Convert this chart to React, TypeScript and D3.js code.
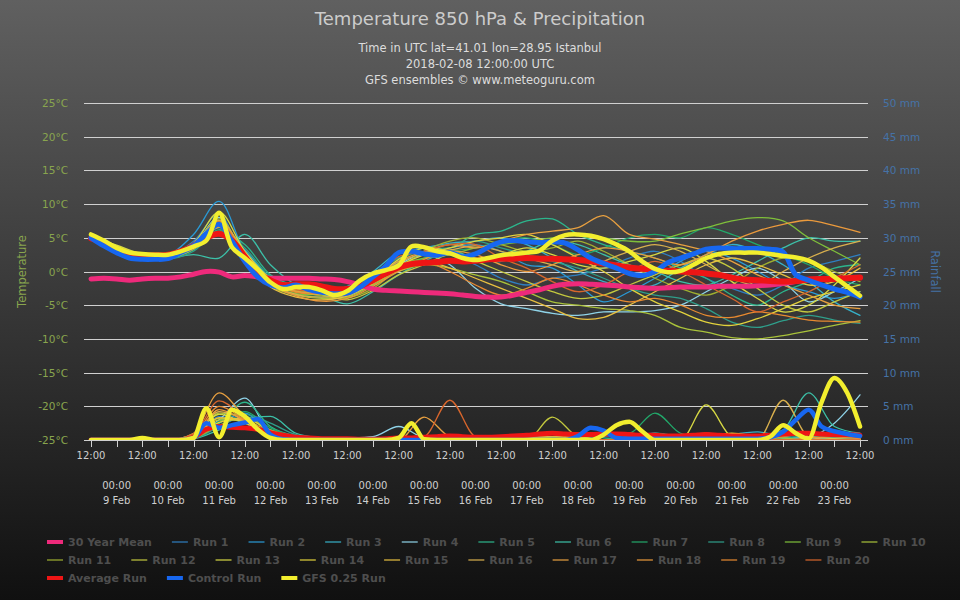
import React, { useMemo } from "react";
import * as d3 from "d3";

const W = 960;
const H = 600;

const titleText = "Temperature 850 hPa & Precipitation";
const subtitleLines = [
  "Time in UTC lat=41.01 lon=28.95 Istanbul",
  "2018-02-08 12:00:00 UTC",
  "GFS ensembles © www.meteoguru.com",
];

// Forecast window (UTC)
const startUTC = Date.UTC(2018, 1, 8, 12);
const endUTC = Date.UTC(2018, 1, 23, 12);
const HOUR = 3600000;

const tempTicks = [-25, -20, -15, -10, -5, 0, 5, 10, 15, 20, 25];
const rainTicks = [0, 5, 10, 15, 20, 25, 30, 35, 40, 45, 50];

// 6-hourly series
const meanTemp30y = [
  -1.1, -1.0, -1.1, -1.3, -1.1, -1.0, -1.0, -0.8, -0.4, 0.0,
  -0.1, -0.8, -0.6, -0.8, -1.0, -1.0, -1.0, -1.0, -1.1, -1.2,
  -1.5, -2.0, -2.6, -2.8, -2.9, -3.0, -3.1, -3.2, -3.3, -3.5,
  -3.7, -3.8, -3.8, -3.5, -3.1, -2.7, -2.2, -1.9, -1.8, -1.9,
  -2.0, -2.1, -2.3, -2.4, -2.5, -2.4, -2.3, -2.3, -2.3, -2.2,
  -2.2, -2.2, -2.1, -2.0, -1.8, -1.5, -1.2, -1.1, -1.0, -1.0,
  -0.9,
];
const avgTemp = [
  4.9, 4.2, 3.2, 2.6, 2.4, 2.4, 2.5, 3.0, 3.8, 5.0,
  5.6, 4.6, 2.2, -0.2, -1.3, -2.0, -1.9, -1.9, -2.2, -2.6,
  -2.6, -2.2, -1.3, -0.3, 0.6, 1.1, 1.3, 1.4, 1.6, 1.5,
  1.6, 1.8, 1.9, 1.9, 2.0, 1.9, 1.9, 1.8, 1.7, 1.5,
  1.2, 0.9, 0.6, 0.4, 0.3, 0.1, 0.0, -0.1, -0.3, -0.5,
  -0.9, -1.2, -1.3, -1.4, -1.5, -1.4, -1.2, -1.1, -1.1, -1.0,
  -0.9,
];
const controlTemp = [
  5.0, 3.8, 2.8, 2.0, 1.8, 1.8, 1.9, 2.8, 3.8, 5.6,
  7.0, 4.5, 1.5, -0.8, -2.0, -2.4, -2.0, -2.7, -3.1, -3.3,
  -3.2, -2.3, -0.8, 0.8, 2.8, 3.0, 2.6, 2.4, 2.8, 2.2,
  2.6, 3.6, 4.4, 4.6, 4.4, 4.3, 4.4, 4.2, 3.2, 2.0,
  1.2, 0.5, -0.3, -0.6, 0.0, 1.3, 2.0, 2.6, 3.3, 3.5,
  3.4, 3.4, 3.4, 3.3, 2.9, -0.5, -1.3, -2.0, -2.6, -3.1,
  -3.8,
];
const gfsTemp = [
  5.5, 4.6, 3.5, 2.8, 2.6, 2.5, 2.5, 3.0, 3.7, 4.6,
  8.7, 3.6, 2.0, 0.3, -1.6, -2.6, -2.3, -2.3, -2.8, -3.5,
  -2.9, -1.3, -0.3, 0.2, 0.9, 3.7, 3.6, 3.0, 2.7, 2.0,
  1.7, 2.0, 2.4, 2.6, 2.8, 3.1, 4.6, 5.4, 5.5, 5.3,
  4.8, 4.0, 3.0, 1.5, 0.4, -0.1, 0.1, 1.0, 2.0, 2.6,
  2.8, 2.8, 2.8, 2.6, 2.3, 2.1, 1.6, 0.6, -0.8, -2.2,
  -3.6,
];
const avgRain = [
  0, 0, 0, 0, 0.1, 0, 0, 0, 0.4, 1.6,
  2.0, 1.9, 1.8, 1.6, 1.1, 0.7, 0.4, 0.3, 0.2, 0.2,
  0.2, 0.1, 0.1, 0.2, 0.3, 0.3, 0.4, 0.5, 0.6, 0.5,
  0.4, 0.4, 0.5, 0.6, 0.7, 0.9, 1.0, 0.9, 0.8, 0.8,
  0.9, 0.9, 0.8, 0.7, 0.7, 0.6, 0.6, 0.7, 0.8, 0.7,
  0.6, 0.6, 0.6, 0.7, 0.9, 1.0, 1.0, 0.9, 0.8, 0.8,
  0.7,
];
const controlRain = [
  0, 0, 0, 0, 0, 0, 0, 0, 0.3, 2.5,
  1.8, 2.2, 2.6, 3.1, 0.8, 0.1, 0, 0, 0, 0,
  0, 0, 0, 0, 0, 0, 0, 0, 0, 0,
  0, 0, 0, 0, 0, 0, 0, 0, 0.6, 1.8,
  1.4, 0.3, 0.2, 0.2, 0.2, 0.2, 0.2, 0.2, 0.2, 0.2,
  0.2, 0.2, 0.2, 0.4, 1.2, 3.0, 4.5, 2.0, 1.3, 0.9,
  0.6,
];
const gfsRain = [
  0, 0, 0, 0, 0.3, 0, 0, 0, 0.3, 4.7,
  0.4, 4.5, 3.5, 1.6, 0.3, 0, 0, 0, 0, 0,
  0, 0, 0, 0, 0.3, 2.5, 0.1, 0, 0, 0,
  0, 0, 0, 0, 0, 0, 0, 0, 0, 0,
  0.8, 2.2, 2.7, 1.3, 0, 0, 0, 0, 0, 0,
  0, 0, 0, 0.5, 2.2, 1.0, 0.2, 5.6, 9.2, 7.0,
  2.0,
];

// Ensemble members, 12-hourly
const runColors = [
  "#2f7fc1", "#2a9ad6", "#36b0c8", "#8fd3e8", "#2cb58c",
  "#3cc0a8", "#22a86a", "#2f9e8a", "#7fbf3a", "#a9c23a",
  "#9fb030", "#c3c83e", "#d6d844", "#e2d23c", "#e8c040",
  "#d9b04e", "#e8a040", "#eb9a3c", "#e88a30", "#d8662c",
];
const ensembleTemp = [
  [5.1, 3.8, 2.4, 2.3, 4.5, 8.5, 1.5, -1.2, -2.0, -2.6, -3.0, -0.5, 2.0, 3.0, 2.5, 1.0, -1.0, -2.0, -1.0, -0.5, 0.5, 2.0, 3.0, 1.5, -1.0, -2.5, -3.5, -2.0, 0.5, 1.5, 2.5],
  [5.0, 3.5, 2.2, 2.4, 5.5, 10.4, 3.0, -0.8, -2.4, -3.2, -3.4, -1.0, 1.5, 2.5, 3.5, 4.0, 3.0, 1.0, 0.5, -2.0, -4.5, -3.0, -1.0, 1.5, 3.0, 2.0, 0.0, -2.0, -3.0, -4.0, -3.0],
  [4.8, 3.4, 2.0, 2.1, 3.6, 6.5, 3.2, -1.0, -2.8, -3.0, -2.2, 0.0, 2.8, 3.5, 4.2, 4.5, 5.0, 4.0, 2.0, 0.0, -1.5, -2.5, -2.0, 0.5, 2.5, 4.0, 3.0, 1.0, -1.5, -4.5, -6.5],
  [5.2, 3.7, 2.5, 2.6, 4.0, 8.0, 2.0, -1.8, -3.0, -3.5, -3.2, -1.5, 1.0, 2.5, 1.0, -2.5, -4.8, -5.5, -6.2, -6.5, -6.0, -6.0, -5.8, -5.0, -3.0, -1.0, 0.5, -1.5, -4.5, -3.0, -1.0],
  [5.0, 3.6, 2.3, 2.0, 3.2, 6.0, 4.0, -0.5, -2.2, -3.0, -3.5, -1.8, 1.5, 3.5, 3.5, 5.5, 6.0, 7.5, 7.8, 5.5, 4.0, 3.0, 2.0, 0.5, -1.0, -3.5, -5.0, -3.0, -1.5, 0.5, 1.0],
  [4.9, 3.5, 2.1, 2.0, 2.5, 2.0, 5.5, 1.0, -2.0, -3.5, -4.8, -3.0, -0.5, 1.5, 3.0, 2.0, 1.5, 3.0, 4.5, 4.0, 2.5, 1.0, 0.0, -1.5, -2.0, -0.5, 1.5, 3.5, 5.0, 4.5, 4.5],
  [5.1, 3.7, 2.4, 2.5, 3.8, 7.2, 2.8, -1.5, -3.2, -3.8, -3.5, -2.0, 0.5, 2.0, 3.0, 3.5, 4.5, 5.0, 4.0, 2.5, 3.5, 5.0, 5.5, 5.0, 6.5, 5.5, 4.0, 2.5, 1.0, -1.0, -2.0],
  [5.0, 3.3, 2.0, 1.8, 3.0, 6.2, 3.5, -0.8, -2.5, -2.8, -2.5, -0.5, 2.0, 3.0, 3.5, 4.5, 3.5, 2.5, 1.5, 0.5, -1.0, -2.5, -3.5, -4.0, -5.5, -7.5, -8.3, -7.3, -6.5, -7.2, -7.7],
  [5.0, 3.6, 2.2, 2.2, 3.4, 7.0, 2.2, -2.0, -3.3, -3.4, -3.2, -1.0, 1.0, 2.0, 2.5, 3.5, 4.0, 4.5, 5.0, 5.5, 5.0, 4.5, 4.5, 5.6, 6.5, 7.5, 8.0, 7.5, 5.0, 3.0, 1.0],
  [5.1, 3.8, 2.5, 2.3, 3.7, 7.5, 2.0, -2.2, -3.5, -4.0, -3.8, -2.0, 0.0, 1.0, 0.5, -0.5, -1.5, -3.0, -4.5, -5.0, -5.5, -5.8, -6.5, -8.3, -9.0, -9.8, -10.0, -9.5, -8.8, -8.0, -7.3],
  [4.9, 3.5, 2.3, 2.4, 3.9, 7.8, 2.6, -1.6, -2.8, -3.6, -3.9, -2.5, 0.5, 3.0, 4.5, 5.0, 4.0, 3.0, 3.5, 4.5, 3.0, 1.0, -1.0, -2.5, -3.5, -2.0, 0.5, 2.0, 1.5, 0.0, -1.5],
  [5.0, 3.6, 2.1, 2.0, 3.3, 6.8, 2.4, -1.3, -2.6, -3.4, -4.2, -2.8, -0.5, 1.0, 2.5, 1.5, 0.0, -1.5, -3.0, -4.0, -3.5, -2.0, -0.5, 1.0, 2.0, 0.5, -2.5, -5.0, -6.0, -4.5, -3.0],
  [5.2, 3.9, 2.6, 2.5, 4.2, 8.8, 3.0, -1.0, -2.6, -3.0, -3.0, -1.2, 1.8, 3.5, 3.0, 2.0, 2.5, 3.5, 2.5, 1.0, 0.5, 1.5, 2.5, 3.5, 1.5, -1.5, -4.0, -6.0, -5.0, -2.0, 2.0],
  [4.8, 3.3, 2.0, 2.1, 3.5, 7.2, 2.9, -1.4, -3.0, -3.4, -3.6, -1.6, 0.8, 2.5, 3.5, 4.5, 5.0, 5.5, 4.0, 2.0, 0.0, -2.5, -4.5, -6.0, -7.5, -8.0, -7.0, -5.5, -4.0, -3.0, -2.0],
  [5.0, 3.5, 2.2, 2.2, 3.6, 7.0, 2.3, -2.3, -3.8, -4.2, -3.6, -1.8, 0.2, 1.5, 0.5, -1.0, -2.5, -4.0, -5.5, -7.0, -6.8, -5.0, -3.0, -1.0, 1.0, 2.0, 1.0, -0.5, -2.0, -1.5, 0.5],
  [5.1, 3.7, 2.4, 2.4, 3.8, 7.6, 2.7, -1.7, -3.4, -3.8, -3.4, -1.4, 1.2, 2.8, 3.2, 3.8, 3.0, 2.0, 1.0, 0.0, 1.5, 3.0, 4.0, 3.0, 1.0, -1.0, -2.0, 0.0, 2.0, 3.5, 4.5],
  [4.9, 3.4, 2.2, 2.3, 3.4, 6.6, 2.5, -1.1, -2.9, -3.3, -3.0, -1.0, 1.5, 3.0, 4.0, 3.5, 4.5, 5.5, 6.0, 6.5, 8.3, 5.5, 4.8, 4.0, 3.0, 1.5, -0.5, -2.0, -3.5, -5.0, -5.5],
  [5.0, 3.6, 2.3, 2.1, 3.5, 7.3, 2.6, -1.9, -3.6, -4.4, -4.0, -2.2, 0.0, 1.8, 3.0, 2.5, 1.0, 0.0, 1.0, 2.5, 3.5, 3.0, 2.0, 1.0, 2.5, 4.5, 6.0, 7.0, 7.6, 6.8, 5.8],
  [5.0, 3.5, 2.1, 2.2, 3.7, 7.4, 2.1, -1.6, -3.1, -3.3, -3.5, -1.3, 1.0, 1.5, 0.0, -2.0, -3.5, -2.5, -1.0, -2.0, -3.5, -4.5, -4.0, -5.0, -6.5, -6.8, -6.0, -6.5, -7.2, -7.4, -7.5],
  [5.1, 3.7, 2.3, 2.3, 3.6, 7.1, 2.4, -1.4, -2.7, -3.1, -3.3, -0.8, 2.2, 3.0, 4.0, 4.0, 2.0, 0.5, -1.5, -3.0, -2.0, 0.0, 1.5, 0.0, -2.0, -4.0, -6.0, -4.5, -3.0, -1.0, 1.0],
];
const ensembleRain = [
  [0, 0, 0, 0, 0.5, 3.5, 2.5, 0.5, 0.2, 0, 0, 0, 0, 0, 0, 0, 0, 0, 0, 0.3, 0.5, 0.2, 0, 0, 0.3, 0.5, 0.2, 0, 0.5, 0.8, 0.3],
  [0, 0, 0, 0, 0.8, 2.5, 4.0, 1.0, 0.3, 0, 0, 0, 0, 0, 0, 0, 0, 0, 0, 0, 0, 0.5, 1.0, 0.3, 0, 0, 0, 0.2, 0.5, 0.3, 0],
  [0, 0, 0, 0, 0.3, 2.0, 3.5, 1.5, 0.5, 0.2, 0, 0, 0, 0, 0, 0, 0, 0.5, 0.3, 0, 0, 0, 0, 0, 0, 0.8, 1.2, 0.5, 0.3, 0.2, 0],
  [0, 0, 0, 0, 0.5, 3.0, 6.2, 1.2, 0.4, 0.2, 0.3, 0.5, 2.0, 0.3, 0, 0, 0, 0, 0, 0, 0, 0, 0, 0, 0, 0, 0, 0.3, 0.5, 2.5, 6.7],
  [0, 0, 0, 0, 0.3, 2.5, 5.6, 2.0, 0.6, 0.2, 0, 0, 0, 0, 0, 0, 0, 0, 0.5, 0.8, 0.3, 0, 1.0, 0.5, 0, 0, 0, 0.3, 0.5, 0.3, 0.2],
  [0, 0, 0, 0, 0.2, 1.5, 3.0, 3.5, 1.0, 0.3, 0, 0, 0, 0, 0, 0, 0, 0, 0, 0, 0, 0, 0, 0, 0, 0, 0.5, 1.5, 7.0, 2.0, 1.0],
  [0, 0, 0, 0, 0.4, 2.8, 4.2, 1.8, 0.5, 0, 0, 0, 0, 0, 0, 0, 0, 0, 0, 0.5, 0.8, 1.0, 4.0, 1.0, 0.3, 0, 0, 0, 0, 0, 0],
  [0, 0, 0, 0, 0.2, 2.0, 3.8, 2.5, 0.8, 0.3, 0, 0, 0, 0, 0, 0, 0, 0, 0, 0, 0, 0, 0, 0.5, 1.0, 0.5, 0, 0, 0, 0, 0],
  [0, 0, 0, 0, 0.6, 3.2, 3.0, 1.0, 0.3, 0, 0, 0, 0, 0, 0, 0, 0, 0, 0, 0, 0, 0.5, 0.8, 0.5, 1.0, 0.3, 0, 0, 0, 0, 0],
  [0, 0, 0, 0, 0.5, 4.0, 3.5, 1.2, 0.3, 0, 0, 0, 0, 0, 0, 0, 0, 0, 0, 0, 0, 0, 0, 0, 0, 0.3, 0.5, 0.3, 0, 0, 0],
  [0, 0, 0, 0, 0.3, 2.2, 3.4, 1.5, 0.4, 0, 0, 0, 0, 0, 0, 0, 0, 0, 0.5, 0.5, 0, 0, 0, 0, 0, 0, 0, 0, 0, 0, 0],
  [0, 0, 0, 0, 0.5, 3.0, 2.8, 0.8, 0.2, 0, 0, 0, 0, 0, 0, 0, 0, 0, 3.4, 0.5, 0, 0, 0, 0, 0, 0, 0, 0, 0, 0, 0],
  [0, 0, 0, 0, 0.7, 3.8, 2.5, 1.0, 0.3, 0, 0, 0, 0, 0, 0, 0, 0, 0, 0, 0, 0, 0, 0, 0, 5.2, 0.5, 0, 0, 0, 0, 0],
  [0, 0, 0, 0, 0.4, 2.6, 3.2, 1.4, 0.4, 0, 0, 0, 0, 0, 0, 0, 0, 0.3, 0.5, 0.3, 0.8, 1.0, 0.5, 0.3, 0.5, 1.0, 0.5, 0, 0, 0, 0],
  [0, 0, 0, 0, 0.5, 3.3, 2.9, 1.1, 0.3, 0, 0, 0, 0, 0, 0, 0, 0, 0, 0, 0, 0, 0, 0, 0, 0, 0, 0.3, 1.0, 0.5, 0.2, 0],
  [0, 0, 0, 0, 0.8, 4.2, 3.0, 0.9, 0.2, 0, 0, 0, 0, 0.3, 0.5, 0.3, 0, 0.3, 0.5, 0.3, 0, 0, 0, 0, 0, 0, 0, 5.9, 0.5, 0, 0],
  [0, 0, 0, 0, 1.0, 7.0, 3.5, 1.0, 0.3, 0, 0, 0, 0, 3.4, 0.5, 0, 0, 0, 0, 0, 0, 0, 0, 0, 0, 0, 0, 0, 0, 0, 0],
  [0, 0, 0, 0, 0.6, 4.5, 2.8, 1.0, 0.3, 0.2, 0, 0, 0, 0, 0, 0, 0, 0, 0, 0, 0, 0, 0, 0, 0, 0, 0, 0, 0.3, 0.5, 0.3],
  [0, 0, 0, 0, 0.8, 5.0, 3.0, 0.8, 0.2, 0, 0, 0, 0, 0, 0, 0, 0, 0, 0, 0, 0, 0, 0, 0, 0, 0, 0, 0.5, 1.0, 0.5, 0.2],
  [0, 0, 0, 0, 0.9, 5.8, 3.3, 1.0, 0.3, 0, 0, 0, 0, 0.5, 5.9, 0.5, 0, 0, 0, 0, 0, 0, 0, 0, 0, 0, 0, 0, 0, 0, 0],
];

const meanColor = "#ee2a7b";
const avgColor = "#ee1515";
const controlColor = "#1767f0";
const gfsColor = "#f2ee2e";

const FONT = "'DejaVu Sans', Verdana, sans-serif";

type LegendItem = { name: string; color: string; thick: boolean };

function measure(text: string, font: string): number {
  const ctx = document.createElement("canvas").getContext("2d");
  if (!ctx) return text.length * 6.6;
  ctx.font = font;
  return ctx.measureText(text).width;
}

export default function App() {
  const x = d3.scaleUtc().domain([startUTC, endUTC]).range([91, 860]);
  const yT = d3.scaleLinear().domain([-25, 25]).range([440, 103]);
  const yR = d3.scaleLinear().domain([0, 50]).range([440, 103]);

  const tempLine = (vals: number[], stepH: number) =>
    d3
      .line<number>()
      .x((_, i) => x(startUTC + i * stepH * HOUR))
      .y((v) => yT(v))
      .curve(d3.curveCatmullRom.alpha(0.5))(vals) || "";
  const rainLine = (vals: number[], stepH: number) =>
    d3
      .line<number>()
      .x((_, i) => x(startUTC + i * stepH * HOUR))
      .y((v) => yR(v))
      .curve(d3.curveMonotoneX)(vals) || "";

  const tickTimes = d3.utcHour.every(12)!.range(startUTC, endUTC + 1);
  const noonTimes = tickTimes.filter((t) => t.getUTCHours() === 12);
  const midnightTimes = tickTimes.filter((t) => t.getUTCHours() === 0);
  const fmtHM = d3.utcFormat("%H:%M");
  const fmtDay = d3.utcFormat("%-d %b");

  const legendRows: LegendItem[][] = useMemo(() => {
    const runs = runColors.map((c, k) => ({ name: `Run ${k + 1}`, color: c, thick: false }));
    return [
      [{ name: "30 Year Mean", color: meanColor, thick: true }, ...runs.slice(0, 10)],
      runs.slice(10, 20),
      [
        { name: "Average Run", color: avgColor, thick: true },
        { name: "Control Run", color: controlColor, thick: true },
        { name: "GFS 0.25 Run", color: gfsColor, thick: true },
      ],
    ];
  }, []);

  const legendFont = `bold 11px ${FONT}`;
  const legendLayout = useMemo(() => {
    return legendRows.map((row) => {
      let cx = 47;
      return row.map((item) => {
        const pos = cx;
        cx += 16 + 5 + measure(item.name, legendFont) + 20;
        return { ...item, x: pos };
      });
    });
  }, [legendRows]);

  const gridY = (v: number) => Math.round(v) + 0.5;

  return (
    <svg
      width={W}
      height={H}
      style={{ position: "absolute", left: 0, top: 0, display: "block" }}
      fontFamily={FONT}
    >
      <defs>
        <linearGradient id="bg" x1="0" y1="0" x2="0" y2="1">
          <stop offset="0" stopColor="rgb(96,96,96)" />
          <stop offset="1" stopColor="rgb(16,16,16)" />
        </linearGradient>
        <clipPath id="plot">
          <rect x={84} y={95} width={784} height={345} />
        </clipPath>
      </defs>
      <rect x={0} y={0} width={W} height={H} fill="url(#bg)" />

      {/* titles */}
      <text x={480} y={25} textAnchor="middle" fontSize={18} fill="#cccccc">
        {titleText}
      </text>
      {subtitleLines.map((s, i) => (
        <text key={s} x={480} y={52 + i * 16} textAnchor="middle" fontSize={11.5} fill="#dddddd">
          {s}
        </text>
      ))}

      {/* grid */}
      {tempTicks.map((t) => (
        <line key={t} x1={84} x2={868} y1={gridY(yT(t))} y2={gridY(yT(t))} stroke="#d0d0d0" strokeWidth={1} />
      ))}

      {/* left axis labels */}
      {tempTicks.map((t) => (
        <text key={t} x={68} y={yT(t) + 4} textAnchor="end" fontSize={10.5} fill="#89A54E">
          {`${t}°C`}
        </text>
      ))}
      <text transform={`translate(26,${yT(0)}) rotate(-90)`} textAnchor="middle" fontSize={11.5} fill="#89A54E">
        Temperature
      </text>

      {/* right axis labels */}
      {rainTicks.map((t) => (
        <text key={t} x={883} y={yR(t) + 4} textAnchor="start" fontSize={10.5} fill="#4572A7">
          {`${t} mm`}
        </text>
      ))}
      <text transform={`translate(931,${yR(25)}) rotate(90)`} textAnchor="middle" fontSize={11.5} fill="#4572A7">
        Rainfall
      </text>

      {/* x axis */}
      {tickTimes.map((t) => {
        const px = Math.round(x(t)) + 0.5;
        return <line key={+t} x1={px} x2={px} y1={440} y2={447} stroke="#d0d0d0" strokeWidth={1} />;
      })}
      {noonTimes.map((t) => (
        <text key={+t} x={x(t)} y={459} textAnchor="middle" fontSize={10} fill="#cfcfcf">
          {fmtHM(t)}
        </text>
      ))}
      {midnightTimes.map((t) => (
        <g key={+t}>
          <text x={x(t)} y={489} textAnchor="middle" fontSize={10} fill="#cfcfcf">
            {fmtHM(t)}
          </text>
          <text x={x(t)} y={504} textAnchor="middle" fontSize={10} fill="#cfcfcf">
            {fmtDay(t)}
          </text>
        </g>
      ))}

      {/* series */}
      <g clipPath="url(#plot)" fill="none" strokeLinejoin="round" strokeLinecap="round">
        {ensembleTemp.map((vals, k) => (
          <path key={`t${k}`} d={tempLine(vals, 12)} stroke={runColors[k]} strokeWidth={1.3} />
        ))}
        {ensembleRain.map((vals, k) => (
          <path key={`r${k}`} d={rainLine(vals, 12)} stroke={runColors[k]} strokeWidth={1.3} />
        ))}
        <path d={tempLine(meanTemp30y, 6)} stroke={meanColor} strokeWidth={5} />
        <path d={tempLine(avgTemp, 6)} stroke={avgColor} strokeWidth={6} />
        <path d={rainLine(avgRain, 6)} stroke={avgColor} strokeWidth={5} />
        <path d={tempLine(controlTemp, 6)} stroke={controlColor} strokeWidth={5} />
        <path d={rainLine(controlRain, 6)} stroke={controlColor} strokeWidth={4.5} />
        <path d={tempLine(gfsTemp, 6)} stroke={gfsColor} strokeWidth={4.5} />
        <path d={rainLine(gfsRain, 6)} stroke={gfsColor} strokeWidth={4.5} />
      </g>

      {/* legend */}
      {legendLayout.map((row, r) =>
        row.map((item) => {
          const cy = 542 + r * 18;
          return (
            <g key={item.name}>
              {item.thick ? (
                <rect x={item.x} y={cy - 2} width={16} height={4} fill={item.color} />
              ) : (
                <line x1={item.x} x2={item.x + 16} y1={cy} y2={cy} stroke={item.color} strokeWidth={2} opacity={0.6} />
              )}
              <text x={item.x + 21} y={cy + 4} fontSize={11} fontWeight="bold" fill="#4e4e4e">
                {item.name}
              </text>
            </g>
          );
        })
      )}
    </svg>
  );
}
